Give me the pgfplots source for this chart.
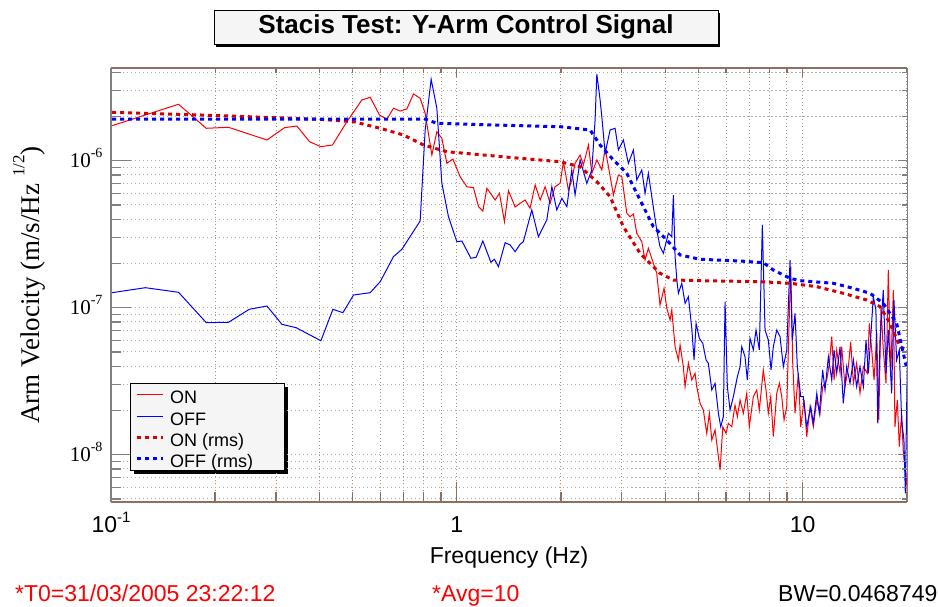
\documentclass[border=0pt]{standalone}
\usepackage{pgfplots}
\pgfplotsset{compat=1.18}
\usepackage{fontspec}
\setmainfont{Liberation Sans}
\newfontfamily\serif{Liberation Serif}
\usetikzlibrary{backgrounds}
\definecolor{axbrown}{RGB}{140,112,96}
\definecolor{gridbrown}{RGB}{175,145,125}
\definecolor{gridgray}{RGB}{175,175,175}
\definecolor{rmsred}{RGB}{210,0,0}
\newcommand{\legtxt}[1]{\makebox[109pt][l]{\rule[-7pt]{0pt}{26.7pt}#1}}
\begin{document}
\begin{tikzpicture}
\path[use as bounding box] (0pt,0pt) rectangle (938pt,607pt);
% title box
\fill[black] (216pt,560pt) rectangle (720pt,594.3pt);
\node[draw=black, line width=0.8pt, fill=gray!8, minimum width=504pt, minimum height=33.3pt, inner sep=0pt, font=\bfseries\fontsize{26}{30}\selectfont] at (466pt,579.7pt) {Stacis Test: Y-Arm Control Signal};
\begin{axis}[
  at={(111pt,105.3pt)}, anchor=south west, scale only axis,
  width=796.3pt, height=433.4pt,
  xmode=log, ymode=log,
  xmin=0.1, xmax=20.06, ymin=4.79e-9, ymax=4.25e-6,
  xtick={0.1,1,10},
  xticklabels={{10\raisebox{0.45em}{\fontsize{15}{15}\selectfont -1}},1,10},
  minor xtick={0.2,0.3,0.4,0.5,0.6,0.7,0.8,0.9,2,3,4,5,6,7,8,9,20},
  ytick={1e-8,1e-7,1e-6},
  yticklabels={{\serif 10\raisebox{0.5em}{\fontsize{14}{14}\selectfont -8}},{\serif 10\raisebox{0.5em}{\fontsize{14}{14}\selectfont -7}},{\serif 10\raisebox{0.5em}{\fontsize{14}{14}\selectfont -6}}},
  minor ytick={5e-9,6e-9,7e-9,8e-9,9e-9,2e-8,3e-8,4e-8,5e-8,6e-8,7e-8,8e-8,9e-8,2e-7,3e-7,4e-7,5e-7,6e-7,7e-7,8e-7,9e-7,2e-6,3e-6,4e-6},
  tick pos=left, tick align=inside,
  major tick length=20pt, minor tick length=10pt,
  x tick style={color=axbrown, line width=1.2pt},
  y tick style={color=gray, line width=1.2pt},
  xticklabel style={font=\fontsize{23}{26}\selectfont, anchor=base, yshift=-31pt},
  yticklabel style={font=\fontsize{21}{24}\selectfont, anchor=base east, xshift=-5pt, yshift=-7pt},
  xmajorgrids, xminorgrids, ymajorgrids, yminorgrids,
  x grid style={color=gridbrown, line width=1pt, dash pattern=on 1pt off 2.5pt},
  y grid style={color=gridgray, line width=1pt, dash pattern=on 1.5pt off 2.5pt},
  separate axis lines,
  every outer x axis line/.append style={color=axbrown, line width=2pt},
  every outer y axis line/.append style={color=gray, line width=1.6pt},
  legend style={name=leg, at={(axis description cs:0.0239,0.2739)}, anchor=north west,
    fill=gray!8, draw=none,
    font=\fontsize{18}{20}\selectfont, inner xsep=5pt, inner ysep=1pt,
    row sep=0pt, column sep=6pt, nodes={inner sep=0pt}},
  legend cell align=left,
  legend image code/.code={\draw[#1] (0pt,0pt) -- (26pt,0pt);},
]
\addplot[red, line width=1pt] coordinates {
(0.1007,1.730e-6) (0.1568,2.42e-6) (0.1886,1.661e-6) (0.2187,1.687e-6) (0.2824,1.383e-6) (0.3176,1.677e-6) (0.3447,1.722e-6) (0.3750,1.347e-6) (0.4045,1.245e-6) (0.4370,1.279e-6) (0.4808,1.842e-6) (0.5313,2.588e-6) (0.5616,2.700e-6) (0.5975,2.046e-6) (0.6276,1.912e-6) (0.6557,2.273e-6) (0.6856,2.178e-6) (0.7167,2.247e-6) (0.7492,2.843e-6) (0.7833,2.658e-6) (0.8098,2.101e-6) (0.8467,1.093e-6) (0.8752,1.575e-6) (0.9050,1.420e-6) (0.9356,9.60e-7) (0.9737,1.027e-6) (1.022,7.78e-7) (1.069,6.65e-7) (1.117,6.55e-7) (1.155,4.864e-7) (1.189,4.548e-7) (1.221,6.49e-7) (1.290,5.404e-7) (1.328,6.00e-7) (1.373,3.846e-7) (1.410,6.25e-7) (1.474,4.842e-7) (1.523,5.13e-7) (1.575,5.40e-7) (1.628,4.745e-7) (1.684,6.836e-7) (1.741,5.40e-7) (1.800,6.65e-7) (1.860,5.13e-7) (1.923,6.65e-7) (1.989,7.02e-7) (2.033,9.84e-7) (2.101,6.32e-7) (2.149,7.39e-7) (2.197,9.60e-7) (2.272,1.093e-6) (2.322,9.35e-7) (2.401,1.279e-6) (2.456,8.21e-7) (2.539,1.011e-6) (2.625,8.644e-7) (2.683,1.214e-6) (2.743,9.10e-7) (2.836,5.84e-7) (2.932,7.99e-7) (2.999,7.78e-7) (3.100,4.386e-7) (3.169,4.16e-7) (3.239,4.34e-7) (3.313,3.208e-7) (3.425,2.812e-7) (3.501,2.112e-7) (3.579,2.536e-7) (3.700,2.005e-7) (3.784,1.714e-7)
(3.868,1.043e-7) (3.973,1.355e-7) (4.046,9.91e-8) (4.135,8.25e-8) (4.182,9.65e-8) (4.275,5.43e-8) (4.370,4.41e-8) (4.420,5.58e-8) (4.517,3.97e-8) (4.569,2.902e-8) (4.671,4.19e-8) (4.777,3.22e-8) (4.884,3.58e-8) (4.938,2.902e-8) (5.049,2.237e-8) (5.160,2.013e-8) (5.278,1.398e-8) (5.371,1.913e-8) (5.458,1.259e-8) (5.579,1.472e-8) (5.665,1.105e-8) (5.768,7.87e-9) (5.873,1.55e-8) (6.003,1.398e-8) (6.095,1.635e-8) (6.234,1.55e-8) (6.372,2.178e-8) (6.471,1.814e-8) (6.589,2.356e-8) (6.734,1.913e-8) (6.889,2.617e-8) (7.009,1.55e-8) (7.198,2.481e-8) (7.364,2.755e-8) (7.491,2.013e-8) (7.692,3.77e-8) (7.832,2.755e-8) (7.954,1.913e-8) (8.082,2.481e-8) (8.222,1.326e-8) (8.412,2.617e-8) (8.559,3.06e-8) (8.697,2.481e-8) (8.831,1.722e-8) (8.991,2.12e-8) (9.087,5.16e-8) (9.233,1.90e-7) (9.357,4.19e-8) (9.500,1.913e-8) (9.712,3.58e-8) (9.868,1.55e-8) (10.09,2.356e-8) (10.27,1.326e-8) (10.50,2.12e-8) (10.73,1.55e-8) (10.98,2.356e-8) (11.22,1.913e-8) (11.42,2.902e-8) (11.73,3.22e-8) (11.94,4.19e-8) (12.13,6.35e-8) (12.32,3.22e-8) (12.54,5.16e-8) (12.82,3.58e-8) (12.96,5.43e-8) (13.25,2.902e-8) (13.55,3.97e-8) (13.76,5.87e-8) (14.01,3.06e-8) (14.32,4.19e-8) (14.64,2.617e-8) (14.97,3.97e-8) (15.37,3.58e-8) (15.58,7.83e-8) (15.83,5.16e-8) (16.08,3.22e-8) (16.37,6.70e-8) (16.59,1.722e-8) (16.84,1.016e-7) (17.10,5.16e-8) (17.41,3.06e-8) (17.68,1.805e-7) (17.96,3.39e-8) (18.28,1.319e-7) (18.48,1.55e-8) (18.77,2.356e-8) (19.02,1.134e-8) (19.32,1.913e-8) (19.54,1.022e-8) (19.89,7.47e-9) (20.06,5.46e-9)
};
\addlegendentry{\legtxt{ON}}
\addplot[blue, line width=1pt] coordinates {
(0.1007,1.265e-7) (0.1257,1.368e-7) (0.1568,1.273e-7) (0.1886,7.91e-8) (0.2187,7.96e-8) (0.2510,9.75e-8) (0.2824,1.027e-7) (0.3120,7.71e-8) (0.3431,7.31e-8) (0.4045,5.96e-8) (0.4381,9.75e-8) (0.4683,9.25e-8) (0.5027,1.220e-7) (0.5616,1.265e-7) (0.6003,1.503e-7) (0.6557,2.223e-7) (0.6935,2.496e-7) (0.7833,3.889e-7) (0.8098,1.618e-6) (0.8427,3.579e-6) (0.8752,2.273e-6) (0.9050,7.02e-7) (0.9456,4.16e-7) (1.000,2.812e-7) (1.034,2.843e-7) (1.098,2.168e-7) (1.137,2.203e-7) (1.189,2.843e-7) (1.254,2.037e-7) (1.284,2.135e-7) (1.319,1.90e-7) (1.379,2.768e-7) (1.426,2.67e-7) (1.474,2.404e-7) (1.523,2.70e-7) (1.557,2.812e-7) (1.647,4.621e-7) (1.721,3.041e-7) (1.820,3.95e-7) (1.882,6.65e-7) (1.945,4.621e-7) (2.012,5.548e-7) (2.080,4.864e-7) (2.149,8.644e-7) (2.197,5.84e-7) (2.272,1.011e-6) (2.375,7.02e-7) (2.456,8.644e-7) (2.510,1.892e-6) (2.539,3.888e-6) (2.595,2.588e-6) (2.625,1.992e-6) (2.683,1.123e-6) (2.774,1.618e-6) (2.867,1.661e-6) (2.932,1.183e-6) (3.030,1.383e-6) (3.133,9.60e-7) (3.239,1.183e-6) (3.313,7.39e-7) (3.425,8.644e-7) (3.501,6.00e-7) (3.579,8.21e-7) (3.661,5.69e-7) (3.784,3.378e-7) (3.868,2.60e-7) (3.955,2.345e-7) (4.088,3.208e-7) (4.182,3.041e-7) (4.227,5.84e-7) (4.275,2.223e-7)
(4.325,1.543e-7) (4.370,1.253e-7) (4.470,1.466e-7) (4.569,1.071e-7) (4.671,1.188e-7) (4.777,7.24e-8) (4.851,4.41e-8) (4.916,7.83e-8) (5.025,6.19e-8) (5.140,5.73e-8) (5.254,4.41e-8) (5.335,4.19e-8) (5.458,2.755e-8) (5.579,3.06e-8) (5.704,1.913e-8) (5.794,1.55e-8) (5.895,1.814e-8) (5.963,1.099e-7) (6.054,2.902e-8) (6.164,2.013e-8) (6.302,2.481e-8) (6.471,3.39e-8) (6.589,3.97e-8) (6.663,5.43e-8) (6.810,4.64e-8) (6.916,3.22e-8) (7.041,6.19e-8) (7.198,5.16e-8) (7.328,7.05e-8) (7.491,5.16e-8) (7.643,3.652e-7) (7.782,7.05e-8) (7.954,6.03e-8) (8.098,3.77e-8) (8.222,5.43e-8) (8.412,7.05e-8) (8.599,6.35e-8) (8.789,3.97e-8) (8.991,5.16e-8) (9.190,2.112e-7) (9.331,6.03e-8) (9.500,9.16e-8) (9.647,3.97e-8) (9.868,2.481e-8) (10.04,2.481e-8) (10.27,1.55e-8) (10.55,2.12e-8) (10.73,1.635e-8) (10.98,2.617e-8) (11.17,1.913e-8) (11.42,3.77e-8) (11.60,2.755e-8) (11.86,4.64e-8) (12.13,3.22e-8) (12.32,5.16e-8) (12.54,3.58e-8) (12.82,5.43e-8) (13.10,2.237e-8) (13.40,3.97e-8) (13.70,3.06e-8) (14.01,4.41e-8) (14.32,2.902e-8) (14.64,3.97e-8) (14.97,2.902e-8) (15.24,6.03e-8) (15.48,3.58e-8) (16.00,1.188e-7) (16.28,9.65e-8) (16.48,1.635e-8) (16.73,6.03e-8) (17.10,1.319e-7) (17.41,3.58e-8) (17.68,7.05e-8) (18.08,2.617e-8) (18.36,1.128e-7) (18.69,4.41e-8) (19.02,5.16e-8) (19.32,1.722e-8) (19.62,1.259e-8) (19.80,5.46e-9) (20.06,3.97e-8)
};
\addlegendentry{\legtxt{OFF}}
\addplot[rmsred, line width=3pt, dash pattern=on 4pt off 4pt] coordinates {
(0.1007,2.134e-6) (0.1812,2.046e-6) (0.4027,1.912e-6) (0.5027,1.842e-6) (0.6003,1.661e-6) (0.7009,1.496e-6) (0.8006,1.279e-6) (0.9356,1.151e-6) (1.194,1.093e-6) (1.523,1.038e-6) (1.989,9.84e-7) (2.272,9.10e-7) (2.539,7.20e-7) (2.774,5.69e-7) (3.030,3.556e-7) (3.387,2.345e-7) (3.868,1.714e-7) (4.227,1.543e-7) (5.049,1.527e-7) (7.526,1.503e-7) (9.190,1.466e-7) (10.98,1.39e-7) (13.10,1.253e-7) (15.31,1.128e-7) (16.73,1.016e-7) (17.88,7.83e-8) (19.11,5.43e-8) (19.98,5.16e-8)
};
\addlegendentry{\legtxt{ON (rms)}}
\addplot[blue, line width=3pt, dash pattern=on 4pt off 4pt] coordinates {
(0.1007,1.921e-6) (0.8098,1.921e-6) (0.8752,1.796e-6) (1.523,1.730e-6) (1.989,1.703e-6) (2.428,1.618e-6) (2.595,1.279e-6) (2.836,1.011e-6) (3.100,8.21e-7) (3.387,5.40e-7) (3.700,3.556e-7) (4.046,2.888e-7) (4.420,2.283e-7) (5.049,2.135e-7) (6.589,2.078e-7) (7.695,2.024e-7) (8.222,1.805e-7) (9.190,1.585e-7) (9.822,1.527e-7) (12.26,1.466e-7) (14.01,1.355e-7) (15.65,1.253e-7) (17.10,1.071e-7) (18.69,7.83e-8) (19.98,3.87e-8)
};
\addlegendentry{\legtxt{OFF (rms)}}
\end{axis}
\begin{pgfonlayer}{background}
\fill[black] ([xshift=4pt,yshift=-4pt]leg.south west) rectangle ([xshift=4pt,yshift=-4pt]leg.north east);
\end{pgfonlayer}
\draw[black, line width=0.8pt] (leg.south west) rectangle (leg.north east);
% top/right short ticks
\begin{axis}[
  at={(111pt,105.3pt)}, anchor=south west, scale only axis,
  width=796.3pt, height=433.4pt,
  xmode=log, ymode=log,
  xmin=0.1, xmax=20.06, ymin=4.79e-9, ymax=4.25e-6,
  xtick={0.1,1,10}, xticklabels={},
  minor xtick={0.2,0.3,0.4,0.5,0.6,0.7,0.8,0.9,2,3,4,5,6,7,8,9,20},
  ytick={1e-8,1e-7,1e-6}, yticklabels={},
  minor ytick={5e-9,6e-9,7e-9,8e-9,9e-9,2e-8,3e-8,4e-8,5e-8,6e-8,7e-8,8e-8,9e-8,2e-7,3e-7,4e-7,5e-7,6e-7,7e-7,8e-7,9e-7,2e-6,3e-6,4e-6},
  tick pos=right, tick align=inside,
  major tick length=9pt, minor tick length=5pt,
  x tick style={color=axbrown, line width=1.2pt},
  y tick style={color=gray, line width=1.2pt},
  separate axis lines,
  every outer x axis line/.append style={color=axbrown, line width=2pt},
  every outer y axis line/.append style={color=gray, line width=1.6pt},
]
\end{axis}
% axis titles
\node[font=\fontsize{23}{26}\selectfont] at (509pt,49.5pt) {Frequency (Hz)};
\node[rotate=90, font=\serif\fontsize{27}{31}\selectfont] at (29pt,322pt) {Arm Velocity (m/s/Hz \raisebox{0.55em}{\fontsize{17}{17}\selectfont 1/2})};
% footer
\node[anchor=base west, inner sep=0pt, text=red, font=\fontsize{23}{26}\selectfont] at (15pt,5.5pt) {*T0=31/03/2005 23:22:12};
\node[anchor=base west, inner sep=0pt, text=red, font=\fontsize{23}{26}\selectfont] at (432pt,5.5pt) {*Avg=10};
\node[anchor=base west, inner sep=0pt, font=\fontsize{23}{26}\selectfont] at (778pt,5.5pt) {BW=0.0468749};
\end{tikzpicture}
\end{document}
